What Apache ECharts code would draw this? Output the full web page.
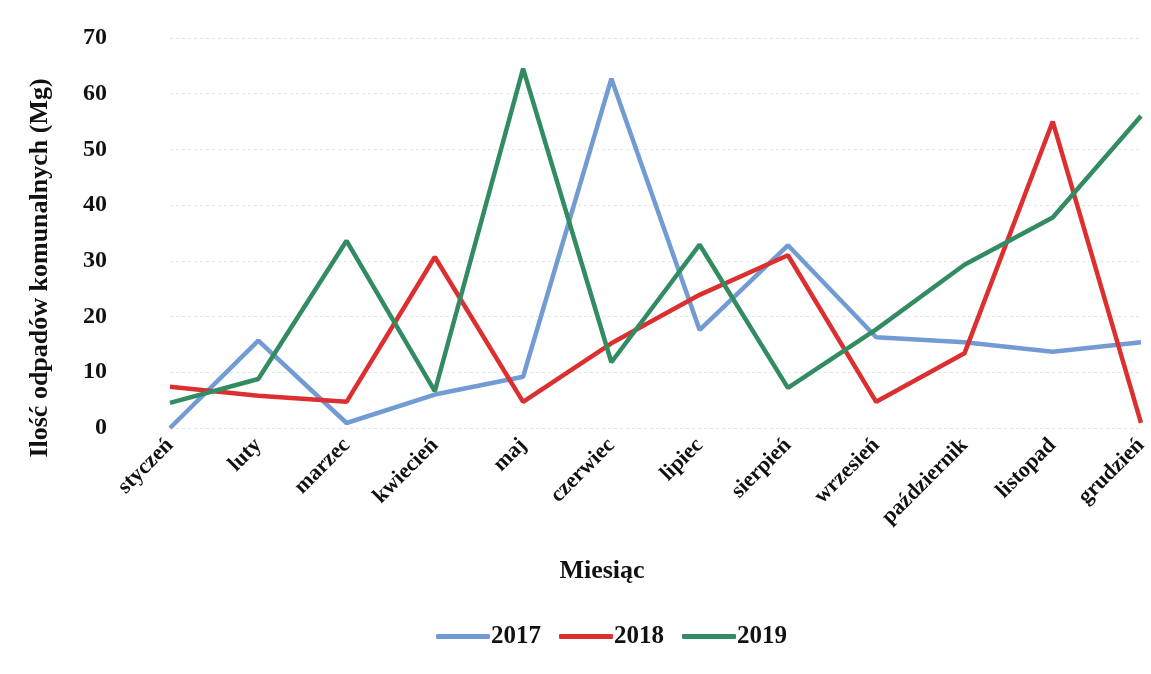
<!DOCTYPE html>
<html>
<head>
<meta charset="utf-8">
<script src="https://cdn.jsdelivr.net/npm/echarts@6/dist/echarts.min.js"></script>
<style>
html,body{margin:0;padding:0;background:#fff;}
#chart{width:1151px;height:674px;}
</style>
</head>
<body>
<div id="chart"></div>
<script>
var months = ['styczeń','luty','marzec','kwiecień','maj','czerwiec','lipiec','sierpień','wrzesień','październik','listopad','grudzień'];
var y2017 = [0, 15.7, 0.9, 6, 9.2, 62.7, 17.6, 32.8, 16.3, 15.4, 13.7, 15.4];
var y2018 = [7.4, 5.8, 4.7, 30.7, 4.7, 15.2, 23.9, 31, 4.7, 13.4, 55, 0.9];
var y2019 = [4.5, 8.8, 33.6, 6.6, 64.5, 11.8, 32.9, 7.2, 17.7, 29.3, 37.8, 56];

var myChart = echarts.init(document.getElementById('chart'));
var font = 'Liberation Serif';

var option = {
    backgroundColor: '#fff',
    animation: false,
    grid: {
        left: 170,
        right: 10,
        top: 38,
        bottom: 246
    },
    // axis titles placed by hand, they sit off-centre in the original
    graphic: [
        {
            type: 'text',
            x: 40,
            y: 268,
            rotation: Math.PI / 2,
            style: {
                text: 'Ilość odpadów komunalnych (Mg)',
                align: 'center',
                verticalAlign: 'middle',
                font: 'bold 26px "Liberation Serif"',
                fill: '#111'
            }
        },
        {
            type: 'text',
            x: 602,
            y: 571,
            style: {
                text: 'Miesiąc',
                align: 'center',
                verticalAlign: 'middle',
                font: 'bold 26px "Liberation Serif"',
                fill: '#111'
            }
        }
    ],
    legend: {
        data: ['2017', '2018', '2019'],
        bottom: 20,
        left: 431,
        icon: 'roundRect',
        itemWidth: 54,
        itemHeight: 5,
        itemGap: 18,
        textStyle: {fontFamily: font, fontWeight: 'bold', fontSize: 25, color: '#111', padding: [0, 0, 0, -4]}
    },
    xAxis: {
        type: 'category',
        boundaryGap: false,
        data: months,
        axisLine: {show: false},
        axisTick: {show: false},
        axisLabel: {
            rotate: 45,
            interval: 0,
            margin: 14,
            fontFamily: font,
            fontWeight: 'bold',
            fontSize: 22,
            color: '#111'
        }
    },
    yAxis: {
        type: 'value',
        min: 0,
        max: 70,
        interval: 10,
        axisLine: {show: false},
        axisTick: {show: false},
        axisLabel: {
            margin: 63,
            fontFamily: font,
            fontWeight: 'bold',
            fontSize: 24,
            color: '#111'
        },
        splitLine: {lineStyle: {color: '#e4e4e4', type: [3, 3], width: 1}}
    },
    series: [
        {
            name: '2017',
            type: 'line',
            data: y2017,
            symbol: 'none',
            itemStyle: {color: '#729bd4'},
            lineStyle: {width: 4.5, color: '#729bd4'}
        },
        {
            name: '2018',
            type: 'line',
            data: y2018,
            symbol: 'none',
            itemStyle: {color: '#dc2f2f'},
            lineStyle: {width: 4.5, color: '#dc2f2f'}
        },
        {
            name: '2019',
            type: 'line',
            data: y2019,
            symbol: 'none',
            itemStyle: {color: '#338b62'},
            lineStyle: {width: 4.5, color: '#338b62'}
        }
    ]
};
myChart.setOption(option);
</script>
</body>
</html>
